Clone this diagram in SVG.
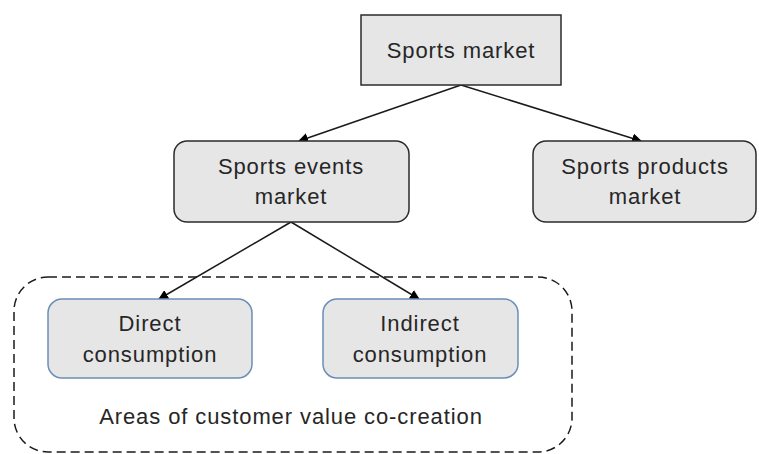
<svg xmlns="http://www.w3.org/2000/svg" width="759" height="454" viewBox="0 0 759 454">
<defs>
<style>
.box{fill:#e6e6e6;stroke:#2b2b2b;stroke-width:1.5}
.blue{fill:#e6e6e6;stroke:#6b8fb8;stroke-width:1.5}
.t{font-family:"Liberation Sans",Arial,sans-serif;font-size:22px;letter-spacing:0.9px;fill:#262626;text-anchor:middle}
.c{stroke:#1a1a1a;stroke-width:1.5;fill:none;marker-end:url(#ah)}
</style>
<marker id="ah" viewBox="0 0 10 10" refX="9" refY="5" markerWidth="10" markerHeight="10" markerUnits="userSpaceOnUse" orient="auto">
<path d="M0,0 L10,5 L0,10 z" fill="#000"/>
</marker>
</defs>
<rect width="759" height="454" fill="#fff"/>
<g id="area">
<rect x="14" y="277" width="558" height="175" rx="34" ry="34" fill="none" stroke="#1a1a1a" stroke-width="1.5" stroke-dasharray="9,5"/>
<text class="t" x="291" y="424">Areas of customer value co-creation</text>
</g>
<g id="connectors">
<line class="c" x1="461" y1="85" x2="299" y2="141"/>
<line class="c" x1="461" y1="85" x2="641" y2="141"/>
<line class="c" x1="291" y1="222" x2="159" y2="299"/>
<line class="c" x1="291" y1="222" x2="419" y2="299"/>
</g>
<g id="sports-market">
<rect class="box" x="361" y="15" width="200" height="70"/>
<text class="t" x="461" y="58">Sports market</text>
</g>
<g id="sports-events-market">
<rect class="box" x="174" y="141" width="235" height="81" rx="13" ry="13"/>
<text class="t" x="291" y="174">Sports events</text>
<text class="t" x="291" y="204">market</text>
</g>
<g id="sports-products-market">
<rect class="box" x="533" y="141" width="223" height="81" rx="13" ry="13"/>
<text class="t" x="645" y="174">Sports products</text>
<text class="t" x="645" y="204">market</text>
</g>
<g id="direct-consumption">
<rect class="blue" x="48" y="299" width="204" height="79" rx="14" ry="14"/>
<text class="t" x="150" y="331">Direct</text>
<text class="t" x="150" y="362">consumption</text>
</g>
<g id="indirect-consumption">
<rect class="blue" x="323" y="299" width="195" height="79" rx="14" ry="14"/>
<text class="t" x="420" y="331">Indirect</text>
<text class="t" x="420" y="362">consumption</text>
</g>
</svg>
